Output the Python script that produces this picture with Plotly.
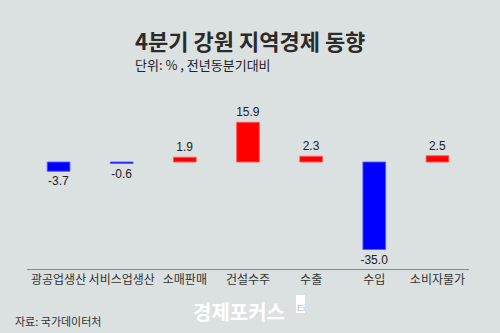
import plotly.graph_objects as go

categories = ["광공업생산", "서비스업생산", "소매판매", "건설수주", "수출", "수입", "소비자물가"]
values = [-3.7, -0.6, 1.9, 15.9, 2.3, -35.0, 2.5]
labels = ["-3.7", "-0.6", "1.9", "15.9", "2.3", "-35.0", "2.5"]

colors = ["#0000ff" if v < 0 else "#ff0000" for v in values]
line_colors = ["rgba(90,90,255,0.9)" if v < 0 else "rgba(255,90,90,0.9)" for v in values]

bg = "#dbe1e0"
font = "Noto Sans CJK KR"

W, H = 500, 333
ML, MR, MT, MB = 27, 31, 100, 64
PW = W - ML - MR
PH = H - MT - MB


def px(x):
    return (x - ML) / PW


def py(y):
    return (H - MB - y) / PH


fig = go.Figure()
fig.add_trace(go.Bar(
    x=categories, y=values,
    marker=dict(color=colors, line=dict(color=line_colors, width=1)),
    width=0.36,
    text=labels, textposition="outside", cliponaxis=False,
    constraintext="none",
    textfont=dict(family="Liberation Sans, Arial", size=12, color="#222222"),
))

fig.update_layout(
    width=W, height=H,
    paper_bgcolor=bg, plot_bgcolor=bg,
    margin=dict(l=ML, r=MR, t=MT, b=MB),
    showlegend=False,
    uniformtext=dict(minsize=12, mode="show"),
    xaxis=dict(showline=True, linecolor="#888888", linewidth=1, ticks="",
               tickfont=dict(family=font, size=12, color="#333333"),
               showgrid=False, zeroline=False),
    yaxis=dict(range=[-42.8, 24.8], visible=False, showgrid=False, zeroline=False),
    annotations=[
        dict(text="<b>4분기 강원 지역경제 동향</b>", x=px(250), y=py(40), xref="paper", yref="paper",
             showarrow=False, font=dict(family=font, size=22, color="#2b2b2b"),
             xanchor="center", yanchor="middle"),
        dict(text="단위: % , 전년동분기대비", x=px(133), y=py(64), xref="paper", yref="paper",
             showarrow=False, font=dict(family=font, size=13, color="#222222"),
             xanchor="left", yanchor="middle"),
        dict(text="자료: 국가데이터처", x=px(13), y=py(321), xref="paper", yref="paper",
             showarrow=False, font=dict(family=font, size=11, color="#333333"),
             xanchor="left", yanchor="middle"),
        dict(text="<b>경제포커스</b>", x=px(191), y=py(311), xref="paper", yref="paper",
             showarrow=False, font=dict(family=font, size=20, color="#ffffff"),
             xanchor="left", yanchor="middle"),
        dict(text="Ei", x=px(300.5), y=py(308), xref="paper", yref="paper",
             showarrow=False, font=dict(family="Liberation Sans", size=9, color="#b8c0bf"),
             xanchor="center", yanchor="middle"),
    ],
)

# small logo box
fig.add_shape(type="rect", xref="paper", yref="paper",
              x0=px(296), x1=px(305), y0=py(313), y1=py(295),
              fillcolor="#ffffff", line=dict(width=0))

fig.write_html("out.html")
